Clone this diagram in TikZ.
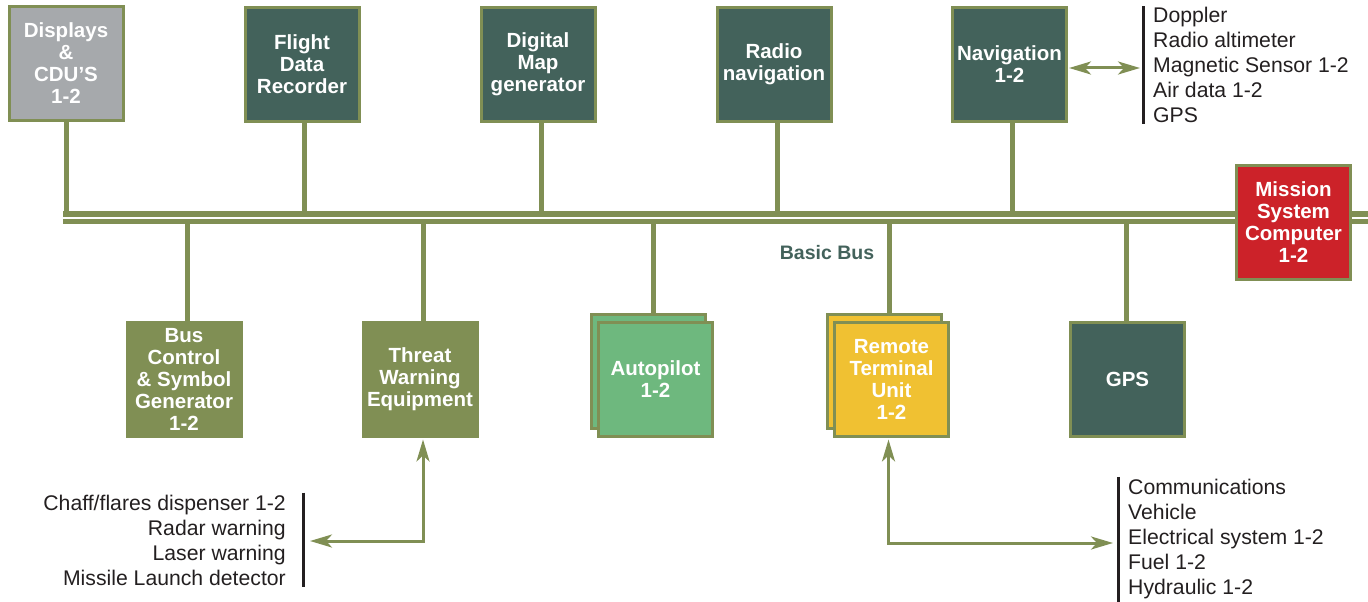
\documentclass[tikz,border=0pt]{standalone}
\usepackage{fontspec}
\setmainfont{Liberation Sans}
\usetikzlibrary{arrows.meta}
\usetikzlibrary{backgrounds}
\usetikzlibrary{positioning}

\definecolor{busgreen}{RGB}{128,143,84}
\definecolor{unitteal}{RGB}{67,98,91}
\definecolor{unitgray}{RGB}{166,169,172}
\definecolor{unitred}{RGB}{204,34,41}
\definecolor{unitlime}{RGB}{110,184,126}
\definecolor{unitgold}{RGB}{240,193,50}
\definecolor{ink}{RGB}{35,31,32}

\tikzset{
  unit/.style={draw=busgreen, line width=3pt, minimum width=114pt, minimum height=114pt,
    inner sep=1pt, align=center, text=white, font=\bfseries\fontsize{20.5}{22}\selectfont},
  bus/.style={busgreen, line width=5.5pt},
  drop/.style={busgreen, line width=5pt},
  link/.style={busgreen, line width=3pt,
    {Stealth[length=22pt,width=13pt,inset=6pt]}-{Stealth[length=22pt,width=13pt,inset=6pt]}},
  sidelist/.style={text=ink, inner sep=0pt, font=\fontsize{21.2}{25}\selectfont},
  bar/.style={ink, line width=3pt}
}

\begin{document}
\begin{tikzpicture}[x=1pt,y=-1pt]
\useasboundingbox (0,0) rectangle (1368,602);
% units above the bus
\node[unit, fill=unitgray] (disp) at (66,63.5) {Displays\\\&\\CDU’S\\1-2};
\node[unit, fill=unitteal] (fdr) at (302,64.5) {Flight\\Data\\Recorder};
\node[unit, fill=unitteal] (dmg) at (538,64.5) {Digital\\Map\\generator};
\node[unit, fill=unitteal] (rnav) at (774,64.5) {Radio\\navigation};
\node[unit, fill=unitteal] (nav) at (1009.5,64.5) {Navigation\\1-2};
\node[unit, fill=unitred] (msc) at (1293.5,222) {Mission\\System\\Computer\\1-2};
% units below the bus
\node[unit, fill=busgreen] (busctl) at (184,379) {Bus\\Control\\\& Symbol\\Generator\\1-2};
\node[unit, fill=busgreen] (threat) at (420,379) {Threat\\Warning\\Equipment};
\node[unit, fill=unitlime] (autoback) at (648,371) {};
\node[unit, fill=unitlime] (auto) at (655.5,379) {Autopilot\\1-2};
\node[unit, fill=unitgold] (rtuback) at (884,371) {};
\node[unit, fill=unitgold] (rtu) at (891.5,379) {Remote\\Terminal\\Unit\\1-2};
\node[unit, fill=unitteal] (gps) at (1127.5,379) {GPS};
\node[text=unitteal, font=\bfseries\fontsize{19.5}{22}\selectfont] (buslabel) at (827,253) {Basic Bus};

% side lists
\node[sidelist, anchor=west, align=left] (navlist) at (1153,65)
  {Doppler\\Radio altimeter\\Magnetic Sensor 1-2\\Air data 1-2\\GPS};
\node[sidelist, anchor=east, align=right] (twlist) at (286,540)
  {Chaff/flares dispenser 1-2\\Radar warning\\Laser warning\\Missile Launch detector};
\node[sidelist, anchor=west, align=left] (rtulist) at (1128,539)
  {Communications\\Vehicle\\Electrical system 1-2\\Fuel 1-2\\Hydraulic 1-2};

\coordinate (bustop) at (63.25,214);
\coordinate (bustopend) at (1368,214);
\coordinate (busbot) at (63.25,221.5);
\coordinate (busbotend) at (1368,221.5);

\begin{scope}[on background layer]
\draw[bus] (bustop) -- (bustopend);
\draw[bus] (busbot) -- (busbotend);
\foreach \u/\dx in {disp/0,fdr/2,dmg/3,rnav/3,nav/2.5} {
	\draw[drop] ([xshift=\dx pt]\u.south) -- ([xshift=\dx pt]\u.south |- bustop);
	};
\foreach \u/\dx in {busctl/3,threat/3,autoback/5,rtuback/5,gps/-1.5} {
	\draw[drop] ([xshift=\dx pt]\u.north |- busbot) -- ([xshift=\dx pt]\u.north);
	};
\end{scope}

% bars and links
\draw[bar] ([xshift=-10pt,yshift=1pt]navlist.north west) -- ([xshift=-10pt,yshift=-1pt]navlist.south west);
\draw[bar] ([xshift=17pt,yshift=2pt]twlist.north east) -- ([xshift=17pt,yshift=-2pt]twlist.south east);
\draw[bar] ([xshift=-10pt,yshift=2pt]rtulist.north west) -- ([xshift=-10pt,yshift=-3pt]rtulist.south west);
\coordinate (navbar) at ([xshift=-10pt,yshift=-3pt]navlist.west);
\coordinate (twbar) at ([xshift=17pt,yshift=-1pt]twlist.east);
\coordinate (rtubar) at ([xshift=-10pt,yshift=-4pt]rtulist.west);
\draw[link, shorten <=1pt, shorten >=3pt] (nav.east |- navbar) -- (navbar);
\draw[link, shorten <=2pt, shorten >=7pt] ([xshift=3pt]threat.south) |- (twbar);
\draw[link, shorten <=2pt, shorten >=5pt] ([xshift=-3pt]rtu.south) |- (rtubar);
\end{tikzpicture}
\end{document}
